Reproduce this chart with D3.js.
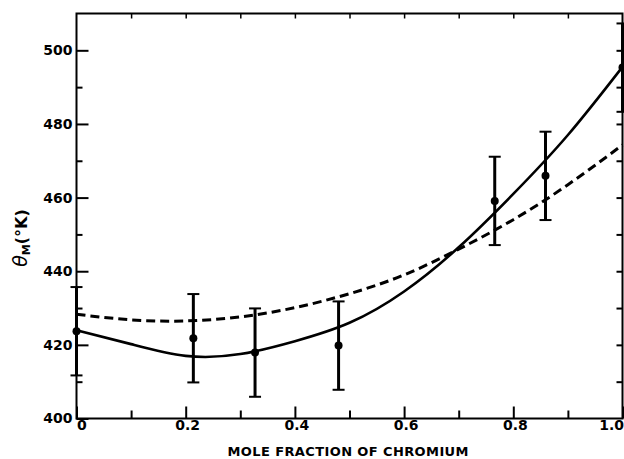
<!DOCTYPE html>
<html>
<head>
<meta charset="utf-8">
<script src="https://cdn.jsdelivr.net/npm/d3@7"></script>
<style>
  html, body { margin: 0; padding: 0; background: #fff; }
  svg { display: block; }
</style>
</head>
<body>
<svg id="chart" width="624" height="459"></svg>
<script>
// ---- data ----
const pointX = [0, 0.214, 0.327, 0.480, 0.766, 0.859, 1.0];
const pointY = [423.7, 421.8, 417.9, 419.8, 459.1, 465.9, 495.3];
const pointErr = [12, 12, 12, 12, 12, 12, 12];

const curveX = [0, 0.1, 0.2, 0.3, 0.4, 0.5, 0.6, 0.7, 0.8, 0.9, 1.0];
const solidY = [424.0, 420.2, 417.0, 417.5, 421.0, 426.0, 434.5, 446.5, 461.0, 477.0, 495.5];
const dashedY = [428.3, 426.8, 426.5, 427.6, 430.1, 433.9, 439.0, 446.0, 454.0, 463.5, 474.3];

const xMajorTicks = [0, 0.2, 0.4, 0.6, 0.8, 1.0];
const xTickLabels = ["0", "0.2", "0.4", "0.6", "0.8", "1.0"];
const xMinorTicks = [0.1, 0.3, 0.5, 0.7, 0.9];
const yMajorTicks = [400, 420, 440, 460, 480, 500];
const yMinorTicks = [410, 430, 450, 470, 490];
const xTitle = "MOLE FRACTION OF CHROMIUM";

// ---- layout ----
const svg = d3.select("#chart");
const L = 76.5, R = 622.5, T = 13.5, B = 418.5;
const x = d3.scaleLinear().domain([0, 1]).range([L, R]);
const y = d3.scaleLinear().domain([400, 510]).range([B, T]);
const font = "DejaVu Sans, sans-serif";

// frame
svg.append("rect").attr("x", L).attr("y", T).attr("width", R - L).attr("height", B - T)
  .attr("fill", "none").attr("stroke", "#000").attr("stroke-width", 2);

function styleAxis(g) {
  g.select(".domain").remove();
  g.selectAll(".tick line").attr("stroke", "#000").attr("stroke-width", 2);
  g.selectAll(".tick text").attr("fill", "#000");
  g.attr("font-family", font).attr("font-weight", "bold");
}

// left axis major
const gLeft = svg.append("g").attr("transform", `translate(${L},0)`)
  .call(d3.axisLeft(y).tickValues(yMajorTicks).tickSize(-12).tickPadding(4).tickFormat(d3.format("d")));
styleAxis(gLeft);
gLeft.attr("font-size", 14);
// left axis minor
const gLeftMinor = svg.append("g").attr("transform", `translate(${L},0)`)
  .call(d3.axisLeft(y).tickValues(yMinorTicks).tickSize(-6).tickFormat(""));
styleAxis(gLeftMinor);

// right axis ticks
const gRight = svg.append("g").attr("transform", `translate(${R},0)`)
  .call(d3.axisRight(y).tickValues(yMajorTicks.concat(yMinorTicks).filter(v => v > 400)).tickSize(-6).tickFormat(""));
styleAxis(gRight);

// bottom axis major
const gBottom = svg.append("g").attr("transform", `translate(0,${B})`)
  .call(d3.axisBottom(x).tickValues(xMajorTicks).tickSize(-12).tickPadding(2)
    .tickFormat((d, i) => xTickLabels[i]));
styleAxis(gBottom);
gBottom.attr("font-size", 14);
gBottom.selectAll(".tick text")
  .attr("text-anchor", (d, i) => i === 0 ? "start" : (i === xMajorTicks.length - 1 ? "end" : "middle"))
  .attr("x", (d, i) => i === 0 ? 0 : (i === xMajorTicks.length - 1 ? 1 : 1.5));
// bottom minor
const gBottomMinor = svg.append("g").attr("transform", `translate(0,${B})`)
  .call(d3.axisBottom(x).tickValues(xMinorTicks).tickSize(-8).tickFormat(""));
styleAxis(gBottomMinor);

// top ticks
const gTop = svg.append("g").attr("transform", `translate(0,${T})`)
  .call(d3.axisTop(x).tickValues(xMajorTicks.concat(xMinorTicks).filter(v => v > 0 && v < 1)).tickSize(-5).tickFormat(""));
styleAxis(gTop);
gTop.selectAll(".tick line").attr("stroke-width", 1.5);

// curves
const lineGen = d3.line().x(d => x(d[0])).y(d => y(d[1])).curve(d3.curveNatural);
svg.append("path").datum(curveX.map((v, i) => [v, solidY[i]]))
  .attr("d", lineGen).attr("fill", "none").attr("stroke", "#000").attr("stroke-width", 2.6);
svg.append("path").datum(curveX.map((v, i) => [v, dashedY[i]]))
  .attr("d", lineGen).attr("fill", "none").attr("stroke", "#000").attr("stroke-width", 3)
  .attr("stroke-dasharray", "9,5");

// error bars and points
const pts = pointX.map((v, i) => ({ x: v, y: pointY[i], e: pointErr[i] }));
const eg = svg.append("g");
eg.selectAll("line.bar").data(pts).join("line").attr("class", "bar")
  .attr("x1", d => x(d.x)).attr("x2", d => x(d.x))
  .attr("y1", d => y(d.y + d.e)).attr("y2", d => y(d.y - d.e))
  .attr("stroke", "#000").attr("stroke-width", 3);
eg.selectAll("line.capT").data(pts).join("line").attr("class", "capT")
  .attr("x1", d => x(d.x) - 6).attr("x2", d => x(d.x) + 6)
  .attr("y1", d => y(d.y + d.e)).attr("y2", d => y(d.y + d.e))
  .attr("stroke", "#000").attr("stroke-width", 2);
eg.selectAll("line.capB").data(pts).join("line").attr("class", "capB")
  .attr("x1", d => x(d.x) - 6).attr("x2", d => x(d.x) + 6)
  .attr("y1", d => y(d.y - d.e)).attr("y2", d => y(d.y - d.e))
  .attr("stroke", "#000").attr("stroke-width", 2);
eg.selectAll("circle").data(pts).join("circle")
  .attr("cx", d => x(d.x)).attr("cy", d => y(d.y)).attr("r", 4).attr("fill", "#000");

// x title
svg.append("text").attr("x", 348).attr("y", 456).attr("text-anchor", "middle")
  .attr("font-family", font).attr("font-size", 13).attr("font-weight", "bold").attr("fill", "#000")
  .attr("textLength", 241).attr("lengthAdjust", "spacing")
  .text(xTitle);

// y title
const yt = svg.append("text").attr("transform", "translate(27,238) rotate(-90)")
  .attr("text-anchor", "middle").attr("font-family", font).attr("fill", "#000");
yt.append("tspan").attr("font-size", 19).attr("font-style", "italic").text("θ");
yt.append("tspan").attr("font-size", 11).attr("font-weight", "bold").attr("dy", 3).text("M");
yt.append("tspan").attr("font-size", 16).attr("font-weight", "bold").attr("dy", -3).text("(°K)");
</script>
</body>
</html>
